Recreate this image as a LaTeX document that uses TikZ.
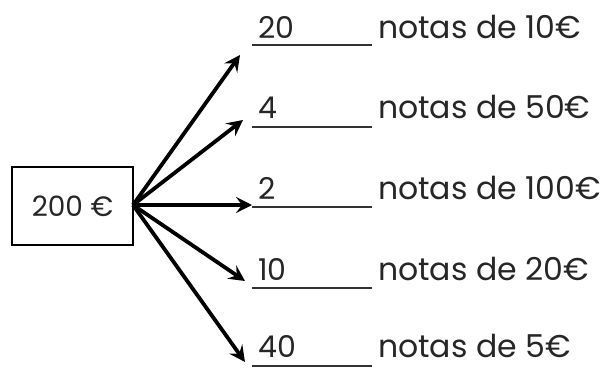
\documentclass[tikz,border=0pt]{standalone}
\usepackage{fontspec}
\setmainfont{Poppins}
\usetikzlibrary{arrows.meta}
\begin{document}
\begin{tikzpicture}[x=1pt,y=-1pt,
  lbl/.style={anchor=base west,inner sep=0pt,font=\fontsize{31.5}{36}\selectfont,text=black!85},
  num/.style={anchor=base west,inner sep=0pt,font=\fontsize{30}{34}\selectfont,text=black!85},
  arr/.style={line width=3.8pt,-{Stealth[length=16pt,width=16pt,inset=6pt]}},
  blank/.style={line width=1.6pt,black!80}]
\useasboundingbox (0,0) rectangle (601,367);
\node[draw,line width=1.4pt,minimum width=121pt,minimum height=78pt,inner sep=0pt,
  font=\fontsize{28}{32}\selectfont,text=black!85] (box) at (72.5,206) {200 €};
\coordinate (o) at (133,205);
\foreach \i/\tx/\ty/\ly/\by/\n/\t in {1/240/55/45/38/20/10,2/243/120/127/118/4/50,3/252/205/207/199/2/100,4/245/281/288/280/10/20,5/245/362/366/357/40/5}{
  \coordinate (t\i) at (\tx,\ty);
  \coordinate (a\i) at (252,\ly);
  \coordinate (b\i) at (372,\ly);
  \draw[blank] (a\i) -- (b\i);
  \node[num] (n\i) at (258,\by) {\n};
  \node[lbl] (l\i) at (378,\by) {notas de \t€};
  \draw[arr] (o) -- (t\i);
}
\end{tikzpicture}
\end{document}
